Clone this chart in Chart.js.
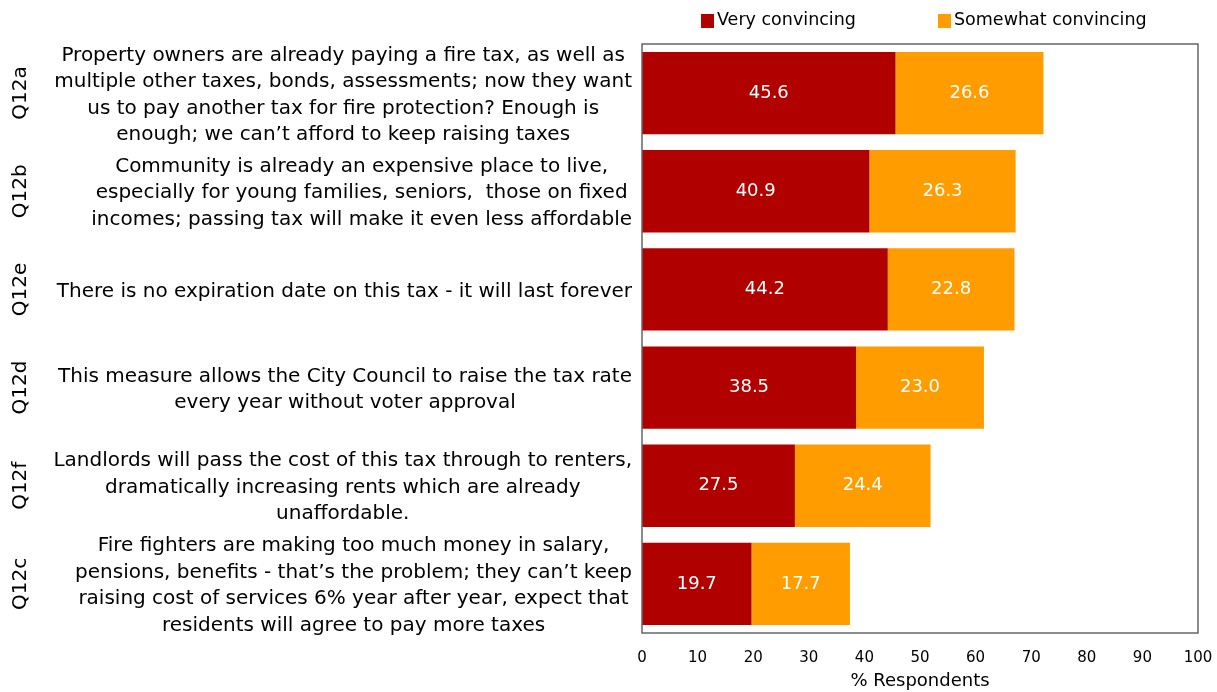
<!DOCTYPE html>
<html>
<head>
<meta charset="utf-8">
<script src="https://cdn.jsdelivr.net/npm/chart.js@4.4.1/dist/chart.umd.min.js"></script>
<style>
  html, body { margin: 0; padding: 0; background: #fff; }
  #wrap { width: 1217px; height: 692px; position: relative; }
</style>
</head>
<body>
<div id="wrap"><canvas id="chart"></canvas></div>
<script>
const FONT = '"DejaVu Sans", sans-serif';

const codes = ['Q12a', 'Q12b', 'Q12e', 'Q12d', 'Q12f', 'Q12c'];
const statements = [
  ['Property owners are already paying a fire tax, as well as',
   'multiple other taxes, bonds, assessments; now they want',
   'us to pay another tax for fire protection? Enough is',
   'enough; we can\u2019t afford to keep raising taxes'],
  ['Community is already an expensive place to live,',
   'especially for young families, seniors,  those on fixed',
   'incomes; passing tax will make it even less affordable'],
  ['There is no expiration date on this tax - it will last forever'],
  ['This measure allows the City Council to raise the tax rate',
   'every year without voter approval'],
  ['Landlords will pass the cost of this tax through to renters,',
   'dramatically increasing rents which are already',
   'unaffordable.'],
  ['Fire fighters are making too much money in salary,',
   'pensions, benefits - that\u2019s the problem; they can\u2019t keep',
   'raising cost of services 6% year after year, expect that',
   'residents will agree to pay more taxes']
];
const veryConvincing = [45.6, 40.9, 44.2, 38.5, 27.5, 19.7];
const somewhatConvincing = [26.6, 26.3, 22.8, 23.0, 24.4, 17.7];
const xTicks = [0, 10, 20, 30, 40, 50, 60, 70, 80, 90, 100];

const RED = '#B10000';
const ORANGE = '#FF9C00';

// frame round the plot, labels left of it, values inside the bars, legend on top
const decorations = {
  id: 'decorations',
  afterDatasetsDraw(chart) {
    const ctx = chart.ctx;
    const area = chart.chartArea;
    const y = chart.scales.y;

    ctx.save();
    ctx.strokeStyle = '#666';
    ctx.lineWidth = 1.5;
    ctx.strokeRect(Math.round(area.left), Math.round(area.top),
      Math.round(area.right - area.left), Math.round(area.bottom - area.top));

    // numbers in the bars
    ctx.fillStyle = '#fff';
    ctx.font = '18px ' + FONT;
    ctx.textAlign = 'center';
    ctx.textBaseline = 'middle';
    chart.data.datasets.forEach((ds, di) => {
      chart.getDatasetMeta(di).data.forEach((bar, i) => {
        const cx = (bar.x + bar.base) / 2;
        ctx.fillText(ds.data[i].toFixed(1), cx, bar.y);
      });
    });

    // statement text, each block right-aligned, lines centred inside it
    const lineH = 26.5;
    const rightEdge = area.left - 10;
    ctx.fillStyle = '#000';
    ctx.font = '20px ' + FONT;
    statements.forEach((lines, i) => {
      const cy = y.getPixelForValue(i) + 2;
      const w = Math.max(...lines.map(l => ctx.measureText(l).width));
      const cx = rightEdge - w / 2;
      const top = cy - (lines.length - 1) * lineH / 2;
      lines.forEach((l, k) => ctx.fillText(l, cx, top + k * lineH));
    });

    // rotated question codes
    codes.forEach((c, i) => {
      const cy = y.getPixelForValue(i);
      ctx.save();
      ctx.translate(21, cy);
      ctx.rotate(-Math.PI / 2);
      ctx.fillText(c, 0, 0);
      ctx.restore();
    });

    // legend
    ctx.font = '17.5px ' + FONT;
    ctx.textAlign = 'left';
    const items = [[RED, 'Very convincing', 701], [ORANGE, 'Somewhat convincing', 938]];
    items.forEach(([col, txt, x]) => {
      ctx.fillStyle = col;
      ctx.fillRect(x, 14, 13, 14);
      ctx.fillStyle = '#000';
      ctx.fillText(txt, x + 16, 20);
    });
    ctx.restore();
  }
};

new Chart(document.getElementById('chart'), {
  type: 'bar',
  data: {
    labels: codes,
    datasets: [
      { label: 'Very convincing', data: veryConvincing, backgroundColor: RED },
      { label: 'Somewhat convincing', data: somewhatConvincing, backgroundColor: ORANGE }
    ]
  },
  options: {
    indexAxis: 'y',
    responsive: true,
    maintainAspectRatio: false,
    animation: false,
    barPercentage: 0.838,
    categoryPercentage: 1,
    layout: { padding: { left: 642, right: 19, top: 44, bottom: 0 } },
    plugins: {
      legend: { display: false },
      tooltip: { enabled: false }
    },
    scales: {
      x: {
        stacked: true,
        min: 0,
        max: 100,
        grid: { display: false },
        border: { display: false },
        afterBuildTicks: (scale) => { scale.ticks = xTicks.map(v => ({ value: v })); },
        afterFit: (scale) => {
          scale.height = 59;
          scale.paddingLeft = 0;
          scale.paddingRight = 0;
        },
        ticks: { color: '#000', font: { family: FONT, size: 15 }, padding: 8, maxRotation: 0 },
        title: {
          display: true,
          text: '% Respondents',
          color: '#000',
          font: { family: FONT, size: 18 },
          padding: { top: 2, bottom: 0 }
        }
      },
      y: {
        stacked: true,
        display: false
      }
    }
  },
  plugins: [decorations]
});
</script>
</body>
</html>
